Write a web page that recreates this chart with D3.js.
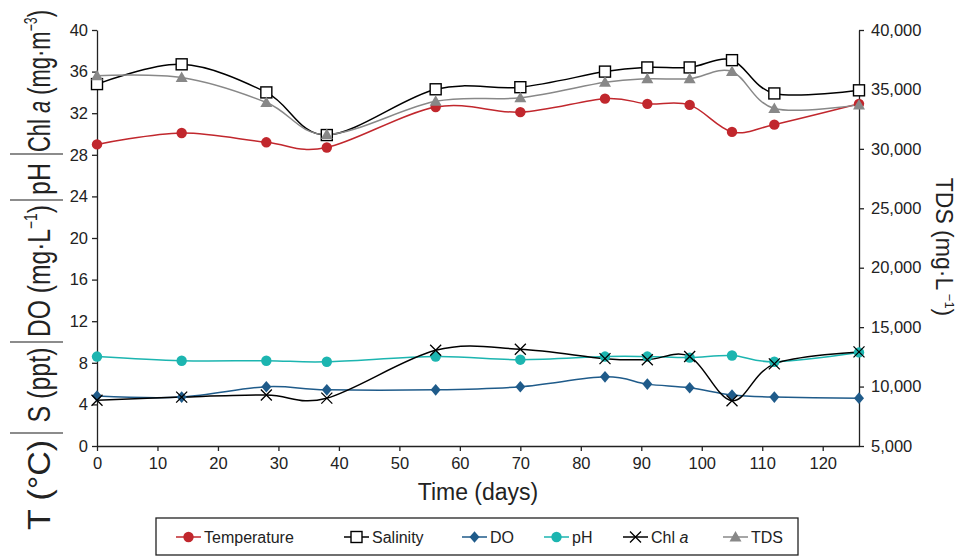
<!DOCTYPE html>
<html>
<head>
<meta charset="utf-8">
<script src="https://cdn.jsdelivr.net/npm/d3@7"></script>
<style>
  body { margin: 0; background: #fff; }
  svg { font-family: "Liberation Sans", Arial, sans-serif; }
</style>
</head>
<body>
<script>
// sampling days
const days = [0, 14, 28, 38, 56, 70, 84, 91, 98, 105, 112, 126];
// left axis series
const temperature = [29.0, 30.1, 29.2, 28.7, 32.6, 32.1, 33.4, 32.9, 32.8, 30.2, 30.9, 32.9];
const salinity = [34.8, 36.7, 34.0, 29.9, 34.3, 34.5, 36.0, 36.4, 36.4, 37.1, 33.9, 34.2];
const dissolvedO2 = [4.8, 4.7, 5.7, 5.4, 5.4, 5.7, 6.65, 5.95, 5.6, 4.9, 4.7, 4.6];
const ph = [8.6, 8.2, 8.2, 8.1, 8.6, 8.3, 8.6, 8.6, 8.5, 8.7, 8.1, 9.0];
const chlA = [4.4, 4.7, 4.9, 4.6, 9.2, 9.3, 8.4, 8.3, 8.6, 4.35, 7.9, 9.05];
// right axis series
const tds = [36150, 36000, 33900, 31200, 34000, 34300, 35600, 35900, 35900, 36500, 33400, 33700];

const xTicks = d3.range(0, 121, 10);
const leftTicks = d3.range(0, 41, 4);
const rightTicks = d3.range(5000, 40001, 5000);

const w = 966, h = 556;
const svg = d3.select("body").append("svg").attr("width", w).attr("height", h);

const x = d3.scaleLinear().domain([0, 126]).range([97, 859]);
const yL = d3.scaleLinear().domain([0, 40]).range([446, 30]);
const yR = d3.scaleLinear().domain([5000, 40000]).range([446, 30]);

// marker shapes
function marker(g, kind, cx, cy, color) {
  if (kind === "circle") {
    g.append("circle").attr("cx", cx).attr("cy", cy).attr("r", 5.2).attr("fill", color);
  } else if (kind === "square") {
    g.append("rect").attr("x", cx - 5.5).attr("y", cy - 5.5).attr("width", 11).attr("height", 11)
      .attr("fill", "#fff").attr("stroke", "#000").attr("stroke-width", 1.4);
  } else if (kind === "diamond") {
    g.append("path").attr("d", `M${cx},${cy - 5.8}L${cx + 5},${cy}L${cx},${cy + 5.8}L${cx - 5},${cy}Z`).attr("fill", color);
  } else if (kind === "triangle") {
    g.append("path").attr("d", `M${cx},${cy - 6}L${cx + 6},${cy + 4.5}L${cx - 6},${cy + 4.5}Z`).attr("fill", color);
  } else if (kind === "x") {
    g.append("path").attr("d", `M${cx - 5.5},${cy - 5.5}L${cx + 5.5},${cy + 5.5}M${cx + 5.5},${cy - 5.5}L${cx - 5.5},${cy + 5.5}`)
      .attr("stroke", color).attr("stroke-width", 1.3).attr("fill", "none");
  }
}

const series = [
  { name: "Temperature", values: temperature, y: yL, color: "#c1272d", kind: "circle" },
  { name: "Salinity", values: salinity, y: yL, color: "#000", kind: "square" },
  { name: "DO", values: dissolvedO2, y: yL, color: "#1f5b8a", kind: "diamond" },
  { name: "pH", values: ph, y: yL, color: "#1cb5b0", kind: "circle" },
  { name: "Chl a", values: chlA, y: yL, color: "#000", kind: "x" },
  { name: "TDS", values: tds, y: yR, color: "#888", kind: "triangle" }
];

// axes
const axisColor = "#222";
const xAxis = svg.append("g").attr("transform", "translate(0,446)")
  .call(d3.axisBottom(x).tickValues(xTicks).tickSize(5).tickSizeOuter(0).tickPadding(6));
const leftAxis = svg.append("g").attr("transform", "translate(97,0)")
  .call(d3.axisLeft(yL).tickValues(leftTicks).tickSize(5).tickSizeOuter(0).tickPadding(4));
const rightAxis = svg.append("g").attr("transform", "translate(859,0)")
  .call(d3.axisRight(yR).tickValues(rightTicks).tickFormat(d3.format(",")).tickSize(5).tickSizeOuter(0).tickPadding(7));

[xAxis, leftAxis, rightAxis].forEach(a => {
  a.selectAll("path, line").attr("stroke", axisColor).attr("stroke-width", 1.3);
  a.selectAll("text").attr("font-size", 16.5).attr("fill", "#222")
    .attr("font-family", "'Liberation Sans', Arial, sans-serif");
});

// lines and markers
series.forEach(s => {
  const line = d3.line().x((d, i) => x(days[i])).y(d => s.y(d)).curve(d3.curveCardinal.tension(0));
  svg.append("path").datum(s.values).attr("d", line)
    .attr("fill", "none").attr("stroke", s.color).attr("stroke-width", 1.5);
});
series.forEach(s => {
  const g = svg.append("g");
  s.values.forEach((v, i) => marker(g, s.kind, x(days[i]), s.y(v), s.color));
});

// x title
svg.append("text").attr("x", 478).attr("y", 500).attr("text-anchor", "middle")
  .attr("font-size", 23).attr("fill", "#222").text("Time (days)");

// right title
const rt = svg.append("text").attr("transform", "translate(936,247) rotate(90)")
  .attr("text-anchor", "middle").attr("font-size", 23).attr("fill", "#222");
rt.append("tspan").text("TDS (mg·L");
rt.append("tspan").attr("font-size", 13).attr("dy", -9).text(" −1");
rt.append("tspan").attr("dy", 9).text(")");

// left composite title
const leftParts = [
  { cy: 485, len: 90, parts: [["T (°C)"]] },
  { cy: 385, len: 75, parts: [["S (ppt)"]] },
  { cy: 271, len: 132, parts: [["DO (mg·L"], ["−1", "sup"], [")"]] },
  { cy: 179, len: 32, parts: [["pH"]] },
  { cy: 81, len: 142, parts: [["Chl "], ["a", "it"], [" (mg·m"], ["−3", "sup"], [")"]] }
];
leftParts.forEach(p => {
  const t = svg.append("text").attr("transform", `translate(50,${p.cy}) rotate(-90)`)
    .attr("text-anchor", "middle").attr("font-size", 32).attr("fill", "#222")
    .attr("textLength", p.len).attr("lengthAdjust", "spacingAndGlyphs");
  let shifted = false;
  p.parts.forEach(([txt, kind]) => {
    const ts = t.append("tspan").text(txt);
    if (kind === "sup") { ts.attr("font-size", 18).attr("dy", -13); shifted = true; }
    else if (shifted) { ts.attr("dy", 13); shifted = false; }
    if (kind === "it") ts.attr("font-style", "italic");
  });
});
[154, 200, 342, 433].forEach(yy => {
  svg.append("line").attr("x1", 10).attr("x2", 63).attr("y1", yy).attr("y2", yy)
    .attr("stroke", "#666").attr("stroke-width", 1.5);
});

// legend
svg.append("rect").attr("x", 156).attr("y", 518).attr("width", 642).attr("height", 37)
  .attr("fill", "#fff").attr("stroke", "#222").attr("stroke-width", 1.3);
const legendX = [176, 344, 462, 544, 623, 723];
series.forEach((s, i) => {
  const g = svg.append("g");
  const lx = legendX[i], ly = 537;
  g.append("line").attr("x1", lx).attr("x2", lx + 25).attr("y1", ly).attr("y2", ly)
    .attr("stroke", s.color).attr("stroke-width", 1.5);
  marker(g, s.kind, lx + 12.5, ly, s.color);
  const t = g.append("text").attr("x", lx + 28).attr("y", ly + 6).attr("font-size", 16).attr("fill", "#222");
  if (s.name === "Chl a") {
    t.append("tspan").text("Chl ");
    t.append("tspan").attr("font-style", "italic").text("a");
  } else t.text(s.name);
});
</script>
</body>
</html>
